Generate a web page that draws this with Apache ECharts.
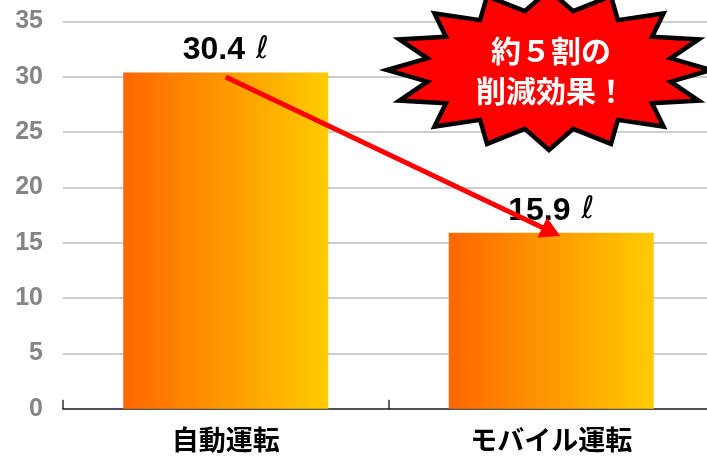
<!DOCTYPE html>
<html>
<head>
<meta charset="utf-8">
<script src="https://cdn.jsdelivr.net/npm/echarts@6/dist/echarts.min.js"></script>
<style>
  html, body { margin: 0; padding: 0; background: #fff; overflow: hidden; }
  #main { width: 714px; height: 457px; }
</style>
</head>
<body>
<div id="main"></div>
<script>
// 燃料使用量（ℓ）
const categories = ['自動運転', 'モバイル運転'];
const fuelValues = [30.4, 15.9];
const yTicks = [0, 5, 10, 15, 20, 25, 30, 35];
const arrowFrom = ['自動運転', 30];
const arrowTo = ['モバイル運転', 16];
const badgeLines = ['約５割の', '削減効果！'];

const myChart = echarts.init(document.getElementById('main'));

// 爆発形の吹き出し
function starPoints(cx, cy, rx, ry, irx, iry, n) {
  const pts = [];
  for (let i = 0; i < n * 2; i++) {
    const a = Math.PI - (i * Math.PI) / n;
    const outer = i % 2 === 0;
    pts.push([
      cx + Math.cos(a) * (outer ? rx : irx),
      cy - Math.sin(a) * (outer ? ry : iry)
    ]);
  }
  return pts;
}

const option = {
  animation: false,
  grid: {
    left: 63,
    right: 0,
    top: 21.6,
    bottom: 48.3,
    containLabel: false
  },
  xAxis: {
    type: 'category',
    data: categories,
    axisLine: {
      lineStyle: { color: 'rgba(0,0,0,0.6)', width: 2 }
    },
    axisTick: {
      show: true,
      inside: true,
      length: 9,
      lineStyle: { color: 'rgba(0,0,0,0.6)', width: 2 }
    },
    axisLabel: {
      color: '#000',
      fontSize: 27,
      fontWeight: 'bold',
      fontFamily: 'Noto Sans CJK JP',
      margin: 18
    }
  },
  yAxis: {
    type: 'value',
    min: yTicks[0],
    max: yTicks[yTicks.length - 1],
    interval: 5,
    axisLine: { show: false },
    axisTick: { show: false },
    axisLabel: {
      color: '#858585',
      fontSize: 25,
      fontWeight: 'bold',
      fontFamily: 'Liberation Sans',
      margin: 20
    },
    splitLine: {
      lineStyle: { color: '#bcbcbc', width: 1.5 }
    }
  },
  series: [
    {
      type: 'bar',
      data: fuelValues,
      barWidth: 205,
      itemStyle: {
        color: {
          type: 'linear',
          x: 0, y: 0, x2: 1, y2: 0,
          colorStops: [
            { offset: 0, color: '#ff6600' },
            { offset: 1, color: '#ffcc00' }
          ]
        }
      },
      label: {
        show: true,
        position: 'top',
        distance: 6,
        formatter: function (p) {
          return '{n|' + p.value.toFixed(1) + '}{l|ℓ}';
        },
        rich: {
          n: {
            color: '#000',
            fontSize: 32,
            fontWeight: 'bold',
            fontFamily: 'Liberation Sans',
            lineHeight: 34,
            verticalAlign: 'bottom'
          },
          l: {
            color: '#000',
            fontSize: 31,
            fontFamily: 'DejaVu Sans',
            lineHeight: 34,
            verticalAlign: 'bottom',
            padding: [0, 0, 1, 11]
          }
        }
      },
      markLine: {
        silent: true,
        symbol: ['none', 'triangle'],
        symbolSize: [22, 20],
        label: { show: false },
        lineStyle: { color: '#ff0000', width: 5, type: 'solid' },
        data: [[{ coord: arrowFrom }, { coord: arrowTo }]],
        z: 5
      }
    }
  ],
  graphic: [
    {
      type: 'polygon',
      z: 100,
      shape: { points: starPoints(549, 70, 162, 80, 124, 60, 16) },
      style: { fill: '#ff0000', stroke: '#000', lineWidth: 4.5, lineJoin: 'miter' }
    },
    {
      type: 'text',
      z: 101,
      x: 551,
      y: 71,
      style: {
        text: badgeLines.join('\n'),
        fill: '#fff',
        fontSize: 30,
        fontWeight: 'bold',
        fontFamily: 'Noto Sans CJK JP',
        lineHeight: 40,
        align: 'center',
        verticalAlign: 'middle'
      }
    }
  ]
};

myChart.setOption(option);
window.addEventListener('resize', myChart.resize);
</script>
</body>
</html>
